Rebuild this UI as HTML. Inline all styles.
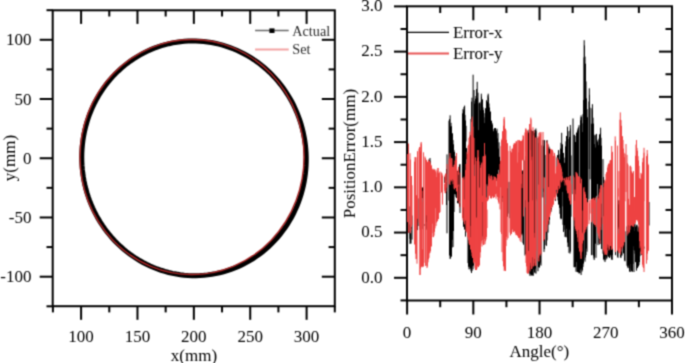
<!DOCTYPE html>
<html><head><meta charset="utf-8"><style>
html,body{margin:0;padding:0;background:#fff;}
svg{display:block;font-family:"Liberation Serif", serif;}
</style></head><body>
<svg width="685" height="363" viewBox="0 0 685 363">
<defs><filter id="bl" x="0" y="0" width="685" height="363" filterUnits="userSpaceOnUse" color-interpolation-filters="sRGB"><feConvolveMatrix order="3" kernelMatrix="1 3 1 3 9 3 1 3 1" divisor="25" edgeMode="duplicate" preserveAlpha="true"/></filter></defs>
<rect width="685" height="363" fill="#fff"/>
<g filter="url(#bl)">
<rect width="685" height="363" fill="#fff"/>
<rect x="52.7" y="10.3" width="282.1" height="295.9" fill="none" stroke="#000" stroke-width="2"/>
<line x1="46.50" y1="306.31" x2="52.70" y2="306.31" stroke="#000" stroke-width="2"/>
<line x1="39.70" y1="276.70" x2="52.70" y2="276.70" stroke="#000" stroke-width="2"/>
<line x1="321.80" y1="276.70" x2="334.80" y2="276.70" stroke="#000" stroke-width="2"/>
<line x1="46.50" y1="247.09" x2="52.70" y2="247.09" stroke="#000" stroke-width="2"/>
<line x1="328.60" y1="247.09" x2="334.80" y2="247.09" stroke="#000" stroke-width="2"/>
<line x1="39.70" y1="217.48" x2="52.70" y2="217.48" stroke="#000" stroke-width="2"/>
<line x1="321.80" y1="217.48" x2="334.80" y2="217.48" stroke="#000" stroke-width="2"/>
<line x1="46.50" y1="187.86" x2="52.70" y2="187.86" stroke="#000" stroke-width="2"/>
<line x1="328.60" y1="187.86" x2="334.80" y2="187.86" stroke="#000" stroke-width="2"/>
<line x1="39.70" y1="158.25" x2="52.70" y2="158.25" stroke="#000" stroke-width="2"/>
<line x1="321.80" y1="158.25" x2="334.80" y2="158.25" stroke="#000" stroke-width="2"/>
<line x1="46.50" y1="128.64" x2="52.70" y2="128.64" stroke="#000" stroke-width="2"/>
<line x1="328.60" y1="128.64" x2="334.80" y2="128.64" stroke="#000" stroke-width="2"/>
<line x1="39.70" y1="99.02" x2="52.70" y2="99.02" stroke="#000" stroke-width="2"/>
<line x1="321.80" y1="99.02" x2="334.80" y2="99.02" stroke="#000" stroke-width="2"/>
<line x1="46.50" y1="69.41" x2="52.70" y2="69.41" stroke="#000" stroke-width="2"/>
<line x1="328.60" y1="69.41" x2="334.80" y2="69.41" stroke="#000" stroke-width="2"/>
<line x1="39.70" y1="39.80" x2="52.70" y2="39.80" stroke="#000" stroke-width="2"/>
<line x1="321.80" y1="39.80" x2="334.80" y2="39.80" stroke="#000" stroke-width="2"/>
<line x1="46.50" y1="10.19" x2="52.70" y2="10.19" stroke="#000" stroke-width="2"/>
<line x1="52.91" y1="306.20" x2="52.91" y2="312.40" stroke="#000" stroke-width="2"/>
<line x1="81.10" y1="306.20" x2="81.10" y2="319.80" stroke="#000" stroke-width="2"/>
<line x1="81.10" y1="10.30" x2="81.10" y2="23.90" stroke="#000" stroke-width="2"/>
<line x1="109.29" y1="306.20" x2="109.29" y2="312.40" stroke="#000" stroke-width="2"/>
<line x1="109.29" y1="10.30" x2="109.29" y2="16.50" stroke="#000" stroke-width="2"/>
<line x1="137.47" y1="306.20" x2="137.47" y2="319.80" stroke="#000" stroke-width="2"/>
<line x1="137.47" y1="10.30" x2="137.47" y2="23.90" stroke="#000" stroke-width="2"/>
<line x1="165.66" y1="306.20" x2="165.66" y2="312.40" stroke="#000" stroke-width="2"/>
<line x1="165.66" y1="10.30" x2="165.66" y2="16.50" stroke="#000" stroke-width="2"/>
<line x1="193.85" y1="306.20" x2="193.85" y2="319.80" stroke="#000" stroke-width="2"/>
<line x1="193.85" y1="10.30" x2="193.85" y2="23.90" stroke="#000" stroke-width="2"/>
<line x1="222.04" y1="306.20" x2="222.04" y2="312.40" stroke="#000" stroke-width="2"/>
<line x1="222.04" y1="10.30" x2="222.04" y2="16.50" stroke="#000" stroke-width="2"/>
<line x1="250.22" y1="306.20" x2="250.22" y2="319.80" stroke="#000" stroke-width="2"/>
<line x1="250.22" y1="10.30" x2="250.22" y2="23.90" stroke="#000" stroke-width="2"/>
<line x1="278.41" y1="306.20" x2="278.41" y2="312.40" stroke="#000" stroke-width="2"/>
<line x1="278.41" y1="10.30" x2="278.41" y2="16.50" stroke="#000" stroke-width="2"/>
<line x1="306.60" y1="306.20" x2="306.60" y2="319.80" stroke="#000" stroke-width="2"/>
<line x1="306.60" y1="10.30" x2="306.60" y2="23.90" stroke="#000" stroke-width="2"/>
<line x1="334.79" y1="306.20" x2="334.79" y2="312.40" stroke="#000" stroke-width="2"/>
<text x="31.50" y="282.30" font-size="17" text-anchor="end" >-100</text>
<text x="31.50" y="223.08" font-size="17" text-anchor="end" >-50</text>
<text x="31.50" y="163.85" font-size="17" text-anchor="end" >0</text>
<text x="31.50" y="104.62" font-size="17" text-anchor="end" >50</text>
<text x="31.50" y="45.40" font-size="17" text-anchor="end" >100</text>
<text x="81.10" y="342.20" font-size="17" text-anchor="middle" >100</text>
<text x="137.47" y="342.20" font-size="17" text-anchor="middle" >150</text>
<text x="193.85" y="342.20" font-size="17" text-anchor="middle" >200</text>
<text x="250.22" y="342.20" font-size="17" text-anchor="middle" >250</text>
<text x="306.60" y="342.20" font-size="17" text-anchor="middle" >300</text>
<text x="194.00" y="361.00" font-size="17" text-anchor="middle" >x(mm)</text>
<text transform="translate(15.2,158.0) rotate(-90)" font-size="17" text-anchor="middle">y(mm)</text>
<path d="M306.22 157.10 L306.07 152.93 L305.78 148.77 L305.35 144.63 L304.78 140.51 L304.07 136.42 L303.22 132.35 L302.24 128.33 L301.12 124.34 L299.87 120.40 L298.49 116.51 L296.99 112.68 L295.35 108.91 L293.60 105.20 L291.72 101.56 L289.72 98.00 L287.61 94.51 L285.39 91.11 L283.05 87.79 L280.62 84.56 L278.07 81.42 L275.43 78.38 L272.69 75.44 L269.86 72.60 L266.94 69.87 L263.94 67.25 L260.85 64.74 L257.68 62.34 L254.44 60.06 L251.14 57.90 L247.76 55.86 L244.32 53.95 L240.83 52.16 L237.28 50.50 L233.68 48.96 L230.04 47.56 L226.35 46.29 L222.63 45.16 L218.88 44.16 L215.10 43.29 L211.29 42.57 L207.46 41.97 L203.62 41.52 L199.77 41.21 L195.91 41.03 L192.05 40.99 L188.19 41.10 L184.34 41.34 L180.50 41.72 L176.68 42.24 L172.87 42.89 L169.09 43.68 L165.34 44.61 L161.62 45.68 L157.94 46.87 L154.31 48.20 L150.71 49.66 L147.17 51.25 L143.69 52.97 L140.26 54.81 L136.90 56.78 L133.60 58.87 L130.37 61.07 L127.22 63.40 L124.15 65.83 L121.16 68.38 L118.26 71.04 L115.45 73.79 L112.73 76.65 L110.10 79.61 L107.58 82.66 L105.16 85.81 L102.84 89.04 L100.64 92.35 L98.54 95.74 L96.56 99.20 L94.70 102.74 L92.95 106.34 L91.33 110.00 L89.82 113.72 L88.44 117.50 L87.19 121.32 L86.07 125.18 L85.07 129.09 L84.20 133.03 L83.46 136.99 L82.86 140.98 L82.39 145.00 L82.05 149.02 L81.84 153.06 L81.77 157.10 L81.82 161.14 L82.02 165.18 L82.34 169.21 L82.80 173.22 L83.38 177.22 L84.10 181.19 L84.95 185.14 L85.93 189.05 L87.03 192.93 L88.26 196.76 L89.62 200.55 L91.10 204.29 L92.70 207.98 L94.42 211.60 L96.25 215.17 L98.20 218.66 L100.27 222.09 L102.45 225.44 L104.73 228.71 L107.12 231.90 L109.62 235.00 L112.21 238.02 L114.91 240.94 L117.70 243.76 L120.58 246.48 L123.55 249.10 L126.60 251.62 L129.74 254.02 L132.96 256.31 L136.25 258.49 L139.61 260.54 L143.05 262.48 L146.54 264.29 L150.10 265.98 L153.72 267.54 L157.38 268.97 L161.10 270.26 L164.86 271.42 L168.66 272.45 L172.50 273.34 L176.36 274.08 L180.26 274.69 L184.17 275.15 L188.11 275.47 L192.05 275.65 L196.00 275.67 L199.96 275.56 L203.91 275.30 L207.86 274.89 L211.79 274.33 L215.70 273.63 L219.60 272.79 L223.46 271.80 L227.29 270.66 L231.09 269.38 L234.84 267.96 L238.54 266.40 L242.19 264.70 L245.78 262.86 L249.30 260.89 L252.76 258.78 L256.15 256.55 L259.46 254.19 L262.68 251.70 L265.82 249.09 L268.87 246.37 L271.82 243.53 L274.67 240.58 L277.42 237.53 L280.07 234.37 L282.60 231.12 L285.02 227.77 L287.32 224.33 L289.49 220.81 L291.55 217.21 L293.48 213.53 L295.28 209.78 L296.95 205.97 L298.49 202.10 L299.89 198.17 L301.15 194.20 L302.28 190.18 L303.27 186.12 L304.12 182.03 L304.82 177.91 L305.39 173.77 L305.81 169.61 L306.09 165.45 L306.22 161.27 Z" fill="none" stroke="#000" stroke-width="5.0"/>
<ellipse cx="192.05" cy="157.1" rx="112.05" ry="117.5" fill="none" stroke="#a82424" stroke-width="1.5"/>
<line x1="255.10" y1="30.60" x2="288.70" y2="30.60" stroke="#6a6a6a" stroke-width="1.5"/>
<rect x="269.4" y="28.4" width="5.1" height="4.6" fill="#000"/>
<text x="292.30" y="35.80" font-size="14.2" text-anchor="start" fill="#2a2a2a">Actual</text>
<line x1="255.10" y1="49.60" x2="288.70" y2="49.60" stroke="#f3a3a3" stroke-width="2.0"/>
<text x="292.30" y="53.60" font-size="14.2" text-anchor="start" fill="#2a2a2a">Set</text>
<rect x="407.0" y="6.3" width="265.0" height="294.2" fill="none" stroke="#000" stroke-width="2"/>
<line x1="400.50" y1="300.42" x2="407.00" y2="300.42" stroke="#000" stroke-width="2"/>
<line x1="394.00" y1="277.80" x2="407.00" y2="277.80" stroke="#000" stroke-width="2"/>
<line x1="659.00" y1="277.80" x2="672.00" y2="277.80" stroke="#000" stroke-width="2"/>
<line x1="400.50" y1="255.18" x2="407.00" y2="255.18" stroke="#000" stroke-width="2"/>
<line x1="665.50" y1="255.18" x2="672.00" y2="255.18" stroke="#000" stroke-width="2"/>
<line x1="394.00" y1="232.56" x2="407.00" y2="232.56" stroke="#000" stroke-width="2"/>
<line x1="659.00" y1="232.56" x2="672.00" y2="232.56" stroke="#000" stroke-width="2"/>
<line x1="400.50" y1="209.95" x2="407.00" y2="209.95" stroke="#000" stroke-width="2"/>
<line x1="665.50" y1="209.95" x2="672.00" y2="209.95" stroke="#000" stroke-width="2"/>
<line x1="394.00" y1="187.33" x2="407.00" y2="187.33" stroke="#000" stroke-width="2"/>
<line x1="659.00" y1="187.33" x2="672.00" y2="187.33" stroke="#000" stroke-width="2"/>
<line x1="400.50" y1="164.71" x2="407.00" y2="164.71" stroke="#000" stroke-width="2"/>
<line x1="665.50" y1="164.71" x2="672.00" y2="164.71" stroke="#000" stroke-width="2"/>
<line x1="394.00" y1="142.10" x2="407.00" y2="142.10" stroke="#000" stroke-width="2"/>
<line x1="659.00" y1="142.10" x2="672.00" y2="142.10" stroke="#000" stroke-width="2"/>
<line x1="400.50" y1="119.48" x2="407.00" y2="119.48" stroke="#000" stroke-width="2"/>
<line x1="665.50" y1="119.48" x2="672.00" y2="119.48" stroke="#000" stroke-width="2"/>
<line x1="394.00" y1="96.86" x2="407.00" y2="96.86" stroke="#000" stroke-width="2"/>
<line x1="659.00" y1="96.86" x2="672.00" y2="96.86" stroke="#000" stroke-width="2"/>
<line x1="400.50" y1="74.24" x2="407.00" y2="74.24" stroke="#000" stroke-width="2"/>
<line x1="665.50" y1="74.24" x2="672.00" y2="74.24" stroke="#000" stroke-width="2"/>
<line x1="394.00" y1="51.62" x2="407.00" y2="51.62" stroke="#000" stroke-width="2"/>
<line x1="659.00" y1="51.62" x2="672.00" y2="51.62" stroke="#000" stroke-width="2"/>
<line x1="400.50" y1="29.01" x2="407.00" y2="29.01" stroke="#000" stroke-width="2"/>
<line x1="665.50" y1="29.01" x2="672.00" y2="29.01" stroke="#000" stroke-width="2"/>
<line x1="394.00" y1="6.39" x2="407.00" y2="6.39" stroke="#000" stroke-width="2"/>
<line x1="407.10" y1="300.50" x2="407.10" y2="314.50" stroke="#000" stroke-width="2"/>
<line x1="440.21" y1="300.50" x2="440.21" y2="307.20" stroke="#000" stroke-width="2"/>
<line x1="440.21" y1="6.30" x2="440.21" y2="13.00" stroke="#000" stroke-width="2"/>
<line x1="473.32" y1="300.50" x2="473.32" y2="314.50" stroke="#000" stroke-width="2"/>
<line x1="473.32" y1="6.30" x2="473.32" y2="20.30" stroke="#000" stroke-width="2"/>
<line x1="506.43" y1="300.50" x2="506.43" y2="307.20" stroke="#000" stroke-width="2"/>
<line x1="506.43" y1="6.30" x2="506.43" y2="13.00" stroke="#000" stroke-width="2"/>
<line x1="539.54" y1="300.50" x2="539.54" y2="314.50" stroke="#000" stroke-width="2"/>
<line x1="539.54" y1="6.30" x2="539.54" y2="20.30" stroke="#000" stroke-width="2"/>
<line x1="572.65" y1="300.50" x2="572.65" y2="307.20" stroke="#000" stroke-width="2"/>
<line x1="572.65" y1="6.30" x2="572.65" y2="13.00" stroke="#000" stroke-width="2"/>
<line x1="605.77" y1="300.50" x2="605.77" y2="314.50" stroke="#000" stroke-width="2"/>
<line x1="605.77" y1="6.30" x2="605.77" y2="20.30" stroke="#000" stroke-width="2"/>
<line x1="638.88" y1="300.50" x2="638.88" y2="307.20" stroke="#000" stroke-width="2"/>
<line x1="638.88" y1="6.30" x2="638.88" y2="13.00" stroke="#000" stroke-width="2"/>
<line x1="671.99" y1="300.50" x2="671.99" y2="314.50" stroke="#000" stroke-width="2"/>
<text x="382.60" y="282.60" font-size="17" text-anchor="end" >0.0</text>
<text x="382.60" y="237.37" font-size="17" text-anchor="end" >0.5</text>
<text x="382.60" y="192.13" font-size="17" text-anchor="end" >1.0</text>
<text x="382.60" y="146.90" font-size="17" text-anchor="end" >1.5</text>
<text x="382.60" y="101.66" font-size="17" text-anchor="end" >2.0</text>
<text x="382.60" y="56.42" font-size="17" text-anchor="end" >2.5</text>
<text x="382.60" y="11.19" font-size="17" text-anchor="end" >3.0</text>
<text x="407.10" y="337.90" font-size="17" text-anchor="middle" >0</text>
<text x="473.32" y="337.90" font-size="17" text-anchor="middle" >90</text>
<text x="539.54" y="337.90" font-size="17" text-anchor="middle" >180</text>
<text x="605.77" y="337.90" font-size="17" text-anchor="middle" >270</text>
<text x="671.99" y="337.90" font-size="17" text-anchor="middle" >360</text>
<text x="539.30" y="356.50" font-size="17" text-anchor="middle" >Angle(°)</text>
<text transform="translate(355.0,153.6) rotate(-90)" font-size="17" text-anchor="middle">PositionError(mm)</text>
<path d="M407.50 200.4V237.4M410.00 206.4V238.8M410.50 208.7V243.0M411.00 209.4V243.6M411.50 210.6V228.8M412.00 215.5V239.6M414.50 222.1V230.5M415.00 217.4V234.4M415.50 216.0V233.5M416.00 214.1V227.7M416.50 211.7V231.3M417.00 206.4V228.1M417.50 208.6V230.1M419.00 198.4V226.0M419.50 195.4V224.5M420.00 208.4V229.6M420.50 207.7V229.4M421.00 218.4V226.8M421.50 189.6V229.6M422.00 187.6V229.1M422.50 187.5V198.1M423.00 188.4V195.0M423.50 186.3V200.4M425.00 224.1V225.9M425.50 216.4V229.4M426.00 182.1V228.6M426.50 194.0V221.9M427.00 171.2V209.6M427.50 178.0V202.9M428.00 165.5V191.9M428.50 161.5V187.3M429.00 159.6V192.7M429.50 164.0V198.6M430.00 160.8V190.7M430.50 182.5V201.1M431.00 167.8V199.6M431.50 171.5V203.5M432.00 182.8V203.2M432.50 177.3V201.0M433.00 176.4V200.9M433.50 180.0V202.8M434.00 183.4V201.5M434.50 191.5V201.8M435.00 190.2V200.1M435.50 177.5V199.9M436.00 181.0V196.7M436.50 178.7V199.1M437.00 181.3V195.7M437.50 179.6V197.0M438.00 180.0V195.1M438.50 185.0V196.1M439.00 180.4V191.5M439.50 188.8V190.9M440.00 192.6V193.1M441.50 185.9V186.4M442.00 180.0V189.5M442.50 178.1V178.8M444.50 176.7V182.9M445.00 177.9V181.7M445.50 177.1V177.8M446.00 177.0V179.2M446.50 169.0V205.0M447.00 154.4V233.3M449.00 120.7V200.7M449.50 119.1V255.5M450.00 127.7V253.8M450.50 126.6V258.3M451.00 122.8V256.7M451.50 126.2V256.5M452.00 172.4V247.7M452.50 133.3V239.8M453.00 140.1V247.0M453.50 144.3V231.0M454.00 150.1V212.0M454.50 152.0V194.2M455.00 156.0V179.5M455.50 170.1V194.4M456.00 167.5V196.9M456.50 166.8V198.0M457.00 173.1V198.0M457.50 170.9V203.2M458.00 177.3V202.9M458.50 170.6V203.4M459.00 168.9V199.7M459.50 164.6V206.6M460.00 164.1V213.0M462.50 113.4V189.2M463.00 109.1V190.4M463.50 110.4V226.8M464.00 107.0V168.3M464.50 107.1V229.5M465.00 114.9V229.2M465.50 120.5V236.6M466.00 125.8V141.5M466.50 148.1V159.3M467.00 157.6V168.7M467.50 158.5V202.3M468.00 171.5V263.1M468.50 160.8V266.8M469.00 161.6V269.3M469.50 155.6V266.8M470.00 151.0V269.2M470.50 135.1V268.2M471.00 119.0V271.2M471.50 101.6V223.1M472.00 97.7V271.0M472.50 127.6V266.4M473.00 139.4V269.3M473.50 218.9V265.6M474.00 90.0V255.4M474.50 103.6V164.6M475.00 101.0V248.2M475.50 98.7V246.5M476.00 96.0V242.0M476.50 89.1V232.1M477.00 160.4V240.8M477.50 97.9V239.9M478.00 92.7V193.2M478.50 130.1V239.7M479.00 103.4V235.3M479.50 102.6V239.2M480.00 103.5V184.8M480.50 110.2V236.2M481.00 101.7V234.7M481.50 96.6V239.7M482.00 101.4V236.8M482.50 99.3V235.9M483.00 107.4V157.7M483.50 110.1V229.3M484.00 113.2V229.6M484.50 123.0V227.1M485.00 117.4V223.4M485.50 108.2V217.1M486.00 110.1V208.2M486.50 100.3V184.3M487.00 149.4V198.3M487.50 102.2V197.0M488.00 95.4V188.9M488.50 97.6V191.2M489.00 103.5V188.9M489.50 107.5V188.8M490.00 113.6V148.9M490.50 111.5V186.1M491.00 121.1V187.1M491.50 120.7V188.3M492.00 123.0V186.9M492.50 124.5V186.6M493.00 138.0V184.2M493.50 131.2V180.6M494.00 129.0V185.2M494.50 128.1V183.8M495.00 130.7V183.4M495.50 128.0V183.2M496.00 130.4V180.0M496.50 131.1V180.8M497.00 128.7V173.9M497.50 138.4V179.8M498.00 133.1V164.2M498.50 148.6V169.8M499.00 142.3V180.9M499.50 156.8V175.8M500.00 161.0V172.2M500.50 163.5V180.9M501.00 170.6V176.5M501.50 168.4V193.3M502.00 168.0V183.5M502.50 170.9V197.7M503.00 172.8V202.0M503.50 174.7V203.5M504.00 178.8V208.5M504.50 178.9V211.3M505.00 182.8V214.4M505.50 180.3V214.1M506.00 187.0V214.5M506.50 192.0V215.1M507.00 184.1V215.6M507.50 187.4V216.7M508.00 181.8V213.6M510.00 181.8V218.2M510.50 184.9V217.8M511.00 183.2V210.1M511.50 187.7V216.5M512.00 185.2V217.4M512.50 189.4V208.6M513.00 183.4V218.6M513.50 185.1V212.2M514.00 185.4V218.6M514.50 183.3V220.2M515.00 183.8V215.3M515.50 184.7V215.4M516.00 185.4V222.0M516.50 206.0V219.9M517.00 185.4V220.5M517.50 186.9V221.7M518.00 201.0V222.7M518.50 185.0V221.9M519.00 191.9V221.1M519.50 189.8V223.8M520.00 189.5V217.6M520.50 185.3V216.1M521.00 180.2V226.1M521.50 178.4V234.1M522.00 176.4V235.3M522.50 170.5V233.6M523.00 171.3V243.2M523.50 169.2V244.7M525.00 160.3V255.5M525.50 156.2V254.1M526.00 176.6V253.2M526.50 152.3V206.6M527.00 147.1V262.7M527.50 143.2V258.3M528.00 131.7V265.3M528.50 133.1V268.3M529.00 129.6V269.9M529.50 130.8V191.0M530.00 129.5V274.4M530.50 129.9V273.7M531.00 129.6V274.5M531.50 130.6V275.5M532.00 132.4V272.1M532.50 131.0V275.0M533.00 130.9V275.3M533.50 131.4V269.5M534.00 198.3V210.0M534.50 132.7V272.3M535.00 129.8V273.2M535.50 130.0V268.8M536.00 131.1V273.6M538.00 138.0V271.2M538.50 142.9V267.3M539.00 137.1V260.3M539.50 141.8V267.6M540.00 141.4V264.7M540.50 149.5V262.6M541.00 145.3V265.6M543.50 146.3V191.9M544.00 145.4V251.9M544.50 140.1V249.2M545.00 154.9V245.2M546.50 141.1V245.8M547.00 146.0V240.4M547.50 175.5V186.8M548.00 144.7V232.6M548.50 148.0V224.4M549.00 146.7V224.5M549.50 148.8V219.7M550.00 166.3V212.5M550.50 156.1V212.6M551.00 154.9V211.8M551.50 153.3V209.5M552.00 155.0V207.0M552.50 164.9V202.3M553.00 156.4V168.5M553.50 163.5V165.4M554.00 159.7V173.7M554.50 159.4V177.0M555.00 175.9V196.1M555.50 184.6V200.9M556.00 177.2V193.2M556.50 175.3V186.1M557.00 157.4V194.6M557.50 155.1V196.9M558.00 157.3V200.6M558.50 150.9V204.6M559.00 154.4V200.9M559.50 159.6V207.8M560.00 159.1V213.9M560.50 148.6V218.2M561.00 142.8V219.3M561.50 148.7V218.7M562.00 144.2V206.4M562.50 144.5V191.9M563.00 187.5V224.8M563.50 152.9V231.9M564.00 157.6V229.8M564.50 162.9V225.2M565.00 162.7V236.9M565.50 146.4V236.4M566.00 141.3V237.3M566.50 136.0V228.8M567.00 175.5V237.3M567.50 128.4V242.5M568.00 131.2V246.9M568.50 176.2V246.7M569.00 139.0V252.9M569.50 137.0V229.8M570.00 130.8V253.6M570.50 128.5V251.6M571.00 155.4V216.7M573.50 187.2V200.7M574.00 135.1V267.2M574.50 134.7V267.2M575.00 142.7V265.9M575.50 142.0V266.9M576.00 136.0V271.7M576.50 132.9V262.1M577.00 132.2V271.9M577.50 130.4V272.2M578.00 128.4V270.4M578.50 127.3V272.4M579.00 125.2V273.5M579.50 227.2V273.1M580.00 245.3V273.1M580.50 120.2V269.7M581.00 117.3V263.6M581.50 117.1V268.4M582.00 123.3V271.6M582.50 132.0V270.1M583.00 114.2V266.9M583.50 100.0V263.6M584.00 57.4V260.0M584.50 45.4V200.0M585.00 56.6V261.7M585.50 63.7V257.5M586.00 81.4V255.1M586.50 98.4V248.7M587.00 109.2V251.7M587.50 117.3V224.7M589.00 101.5V199.5M589.50 94.8V141.5M590.00 107.7V179.3M591.50 123.7V255.2M592.00 108.3V255.0M592.50 110.5V207.6M593.00 117.7V195.5M593.50 123.6V255.6M594.00 135.5V258.4M594.50 144.1V257.2M595.00 134.6V210.3M595.50 147.5V243.7M596.00 135.3V257.8M597.50 141.6V184.1M598.00 139.9V245.1M598.50 145.1V199.5M599.00 138.5V243.2M599.50 134.3V244.4M600.00 138.5V240.5M600.50 132.8V180.0M601.00 137.8V243.9M601.50 145.7V249.0M603.00 159.1V253.7M603.50 177.0V259.2M604.00 180.2V260.3M604.50 190.7V258.6M605.00 202.0V260.2M605.50 201.1V256.1M606.00 203.9V259.5M606.50 201.5V257.7M607.00 202.7V258.5M607.50 201.2V250.1M608.00 203.2V256.4M608.50 200.8V256.7M609.00 201.5V251.5M609.50 221.6V258.0M610.00 201.0V244.6M610.50 202.3V255.3M611.00 201.7V257.2M611.50 208.6V259.0M612.00 210.3V259.6M612.50 201.2V255.1M615.50 228.9V255.2M617.50 201.6V256.8M618.00 200.8V257.9M618.50 204.4V227.2M619.00 209.6V216.4M619.50 208.3V225.8M620.00 210.1V223.5M620.50 213.2V257.5M621.00 211.3V257.8M621.50 227.6V255.2M622.00 218.1V255.6M622.50 217.9V243.6M623.00 240.2V242.9M623.50 220.0V253.4M624.00 221.3V246.2M624.50 222.6V260.6M625.00 231.3V261.3M627.00 226.4V265.7M627.50 227.8V266.7M628.00 223.6V268.2M628.50 224.3V265.5M629.00 233.7V267.9M629.50 224.4V271.1M630.00 225.0V271.6M630.50 225.9V264.1M631.00 225.0V268.5M631.50 224.7V270.9M632.00 228.3V271.7M632.50 223.1V271.6M633.00 240.4V263.9M633.50 223.8V246.4M634.00 223.3V250.1M634.50 230.9V250.5M635.00 223.6V253.7M635.50 226.6V262.2M636.00 227.1V254.4M636.50 225.3V270.6M637.00 224.7V264.7M637.50 231.3V268.1M638.00 226.3V266.9M638.50 228.3V266.0M639.00 227.1V264.9M639.50 228.2V262.1M640.00 228.7V256.1M640.50 240.7V251.4M641.00 231.8V251.8M641.50 242.3V254.9M642.00 243.9V244.4M642.50 235.9V247.2M643.00 241.1V251.8M643.50 238.6V249.1M644.00 246.6V248.7M646.50 215.9V239.9M647.00 206.5V246.3M647.50 204.6V242.9M648.00 215.8V226.8M648.50 204.6V244.0M407.50 200.0V221.5M410.00 224.5V244.0M426.00 205.0V230.0M430.00 158.0V179.0M432.00 190.0V205.0M450.10 115.3V187.1M450.10 187.2V259.0M464.60 105.6V168.8M471.50 186.5V273.0M473.10 74.7V172.4M477.20 81.8V160.9M479.00 171.5V240.0M481.30 93.7V166.9M481.30 166.8V240.0M483.00 170.0V240.0M488.20 93.7V144.3M530.00 128.5V202.2M530.00 202.2V276.0M533.00 203.0V276.0M535.90 128.5V201.2M543.00 140.0V197.5M547.00 140.0V192.5M558.60 150.0V178.5M561.70 132.8V179.4M567.50 126.7V187.3M570.30 125.0V191.0M573.00 118.5V194.2M581.10 115.4V195.2M581.10 195.2V275.0M584.20 40.2V152.6M589.30 88.3V169.1M592.40 104.2V181.1M594.20 197.5V260.0M596.50 133.9V195.9M600.60 127.7V186.3M605.00 231.0V262.0M608.00 200.0V229.0M612.00 200.0V230.0M612.00 230.0V260.0M618.00 200.0V229.0M630.00 247.2V272.0M634.00 222.0V247.0M634.00 247.0V272.0M647.00 227.5V250.0M649.00 202.0V225.5" fill="none" stroke="#000" stroke-width="1.0"/>
<path d="M407.50 154.1V222.1M410.00 153.2V231.6M410.50 159.5V233.3M411.00 185.2V230.3M411.50 176.0V226.9M412.00 185.2V224.9M414.50 161.6V244.5M415.00 157.1V241.2M415.50 157.2V253.7M416.00 206.1V259.1M416.50 195.2V258.9M417.00 157.3V263.7M417.50 151.2V218.8M419.00 148.6V222.6M419.50 147.1V226.5M420.00 147.2V274.9M420.50 151.3V268.7M421.00 143.4V236.4M421.50 144.3V266.7M422.00 201.7V267.3M422.50 249.4V266.4M423.00 190.9V266.9M423.50 152.3V266.2M425.00 156.6V262.8M425.50 158.1V265.8M426.00 195.9V265.8M426.50 159.9V215.4M427.00 203.2V203.7M427.50 161.8V266.5M428.00 177.1V262.3M428.50 159.7V259.3M429.00 161.9V257.8M429.50 161.0V253.3M430.00 161.6V252.8M430.50 163.6V251.2M431.00 164.9V240.7M431.50 165.7V246.5M432.00 169.7V237.1M432.50 169.3V223.7M433.00 168.6V233.2M433.50 169.7V237.2M434.00 171.2V235.6M434.50 169.3V231.8M435.00 170.9V228.4M435.50 171.6V208.2M436.00 169.6V225.9M436.50 177.0V222.6M437.00 172.6V221.3M437.50 171.2V221.2M438.00 168.0V219.1M438.50 173.2V219.1M439.00 192.3V210.9M439.50 172.6V212.9M440.00 171.5V212.0M441.50 172.5V192.5M442.00 173.5V177.8M442.50 175.5V204.6M444.50 184.0V190.8M445.00 175.2V193.2M445.50 173.6V193.1M446.00 173.8V191.7M446.50 180.8V181.5M447.00 164.1V187.8M449.00 158.6V184.2M449.50 158.6V183.7M450.00 156.5V176.1M450.50 162.5V179.8M451.00 158.8V181.6M451.50 158.1V180.1M452.00 158.4V180.9M452.50 166.8V179.0M453.00 168.0V184.2M453.50 167.0V180.2M454.00 165.0V188.5M454.50 164.5V189.4M455.00 160.5V186.3M455.50 159.9V188.1M456.00 156.8V177.5M456.50 154.1V191.5M457.00 169.6V185.5M457.50 184.9V200.9M458.00 172.0V186.6M458.50 166.8V174.7M459.00 184.5V203.3M459.50 201.6V203.1M460.00 172.5V207.5M462.50 177.7V218.1M463.00 177.9V220.3M463.50 179.6V207.4M464.00 176.6V222.1M464.50 199.3V224.4M465.00 178.7V208.2M465.50 170.1V220.6M466.00 164.0V231.3M466.50 163.5V231.5M467.00 151.8V232.8M467.50 153.9V237.3M468.00 145.6V232.3M468.50 144.6V240.2M469.00 137.9V243.4M469.50 136.6V244.9M470.00 131.8V245.1M470.50 237.2V249.3M471.00 225.9V249.9M471.50 121.9V252.5M472.00 119.2V256.1M472.50 159.0V258.0M473.00 126.7V255.6M473.50 137.3V262.4M474.00 138.1V263.5M474.50 176.0V262.1M475.00 186.2V267.8M475.50 157.4V270.0M476.00 161.0V268.6M476.50 237.4V268.2M477.00 242.8V268.5M477.50 158.1V266.3M478.00 150.1V228.6M478.50 156.8V267.0M479.00 161.4V258.2M479.50 187.6V265.5M480.00 200.7V257.7M480.50 167.7V252.3M481.00 165.0V243.7M481.50 163.4V241.2M482.00 162.4V246.5M482.50 195.7V202.0M483.00 156.5V243.5M483.50 156.1V245.0M484.00 156.8V244.6M484.50 148.2V238.9M485.00 154.4V244.2M485.50 155.9V241.3M486.00 206.7V239.5M486.50 197.4V236.9M487.00 209.6V228.1M487.50 186.2V201.2M488.00 184.4V200.1M488.50 176.4V199.3M489.00 174.1V196.1M489.50 178.1V195.6M490.00 175.8V192.2M490.50 179.0V198.3M491.00 176.3V195.0M491.50 175.4V198.5M492.00 176.7V197.4M492.50 180.2V196.1M493.00 182.2V195.5M493.50 179.6V198.1M494.00 176.0V196.0M494.50 177.0V197.1M495.00 178.6V194.4M495.50 176.9V194.2M496.00 178.3V198.6M496.50 186.4V193.7M497.00 178.4V196.1M497.50 174.0V197.0M498.00 175.9V200.2M498.50 174.9V202.3M499.00 172.4V203.8M499.50 174.4V197.8M500.00 164.0V209.4M500.50 160.8V187.3M501.00 146.1V232.2M501.50 140.2V234.0M502.00 138.6V252.2M502.50 131.2V196.2M503.00 134.5V261.2M503.50 125.7V266.4M504.00 118.8V181.6M504.50 120.5V269.7M505.00 130.0V267.0M505.50 128.7V262.1M506.00 130.4V246.1M506.50 139.9V236.8M507.00 143.1V239.9M507.50 143.3V188.3M508.00 150.8V238.2M510.00 145.8V232.6M510.50 151.0V235.4M511.00 153.4V233.8M511.50 152.3V233.8M512.00 148.8V211.2M512.50 149.0V229.6M513.00 147.7V232.0M513.50 144.9V232.2M514.00 143.5V230.8M514.50 143.4V231.0M515.00 143.1V232.4M515.50 143.6V233.3M516.00 141.3V235.2M516.50 141.4V235.0M517.00 162.1V232.8M517.50 163.1V235.8M518.00 140.5V236.5M518.50 152.3V237.9M519.00 140.5V236.2M519.50 140.2V238.0M520.00 147.1V240.5M520.50 140.9V237.2M521.00 143.8V242.0M521.50 140.7V183.8M522.00 174.0V188.1M522.50 139.6V159.9M523.00 135.2V160.7M523.50 136.0V216.5M525.00 132.5V207.4M525.50 129.7V151.6M526.00 128.7V262.9M526.50 132.5V266.4M527.00 130.2V272.8M527.50 130.7V273.3M528.00 259.2V269.5M528.50 250.8V273.0M529.00 253.9V270.2M529.50 124.0V269.6M530.00 155.1V271.4M530.50 150.1V262.8M531.00 119.4V265.7M531.50 160.2V269.1M532.00 156.7V268.6M532.50 200.4V257.4M533.00 127.3V266.6M533.50 135.5V266.3M534.00 130.7V263.2M534.50 237.6V258.9M535.00 233.0V265.8M535.50 137.5V265.4M536.00 137.7V251.1M538.00 136.3V261.3M538.50 184.6V257.8M539.00 132.9V261.5M539.50 136.5V254.9M540.00 138.1V255.8M540.50 133.7V253.6M541.00 132.2V254.3M543.50 220.3V241.2M544.00 177.2V239.6M544.50 177.7V239.3M545.00 204.7V233.4M546.50 142.4V231.8M547.00 140.6V229.8M547.50 145.2V224.8M548.00 143.8V224.1M548.50 187.0V220.6M549.00 201.9V217.2M549.50 153.5V217.1M550.00 155.9V215.7M550.50 148.7V213.6M551.00 153.2V211.1M551.50 149.4V208.0M552.00 150.7V207.5M552.50 149.8V206.0M553.00 151.6V204.2M553.50 156.0V204.7M554.00 158.6V177.8M554.50 153.1V197.4M555.00 155.5V200.3M555.50 173.5V199.1M556.00 191.6V196.3M556.50 166.4V189.9M557.00 169.1V186.4M557.50 157.6V193.4M558.00 159.5V190.3M558.50 160.1V185.9M559.00 166.5V178.7M559.50 162.8V188.8M560.00 163.3V187.4M560.50 165.0V180.0M561.00 166.7V181.3M561.50 168.7V182.3M562.00 171.8V181.2M562.50 176.4V180.3M563.00 179.2V179.9M563.50 180.9V181.4M564.00 178.2V180.2M564.50 178.8V180.4M565.00 177.7V185.5M565.50 180.2V182.5M566.00 181.0V184.5M566.50 177.4V185.4M567.00 177.1V190.7M567.50 179.6V193.3M568.00 180.9V192.6M568.50 177.0V193.3M569.00 176.4V198.2M569.50 180.6V200.3M570.00 180.3V201.2M570.50 175.8V204.5M571.00 183.9V204.1M573.50 175.6V216.8M574.00 177.3V220.4M574.50 200.6V217.4M575.00 189.5V226.4M575.50 194.2V229.0M576.00 198.6V230.6M576.50 172.6V231.1M577.00 173.1V234.2M577.50 174.3V237.5M578.00 208.4V241.8M578.50 176.3V229.9M579.00 176.6V248.2M579.50 177.3V251.0M580.00 177.1V252.2M580.50 183.3V255.4M581.00 214.9V258.6M581.50 178.8V252.5M582.00 232.2V251.6M582.50 233.3V243.5M583.00 210.5V236.7M583.50 188.3V240.5M584.00 187.0V225.0M584.50 191.7V233.3M585.00 191.9V232.0M585.50 194.3V229.9M586.00 198.5V229.3M586.50 198.0V227.2M587.00 211.6V225.8M587.50 202.2V225.7M589.00 200.2V224.1M589.50 203.1V220.3M590.00 199.8V213.5M591.50 199.0V222.3M592.00 199.7V213.8M592.50 198.5V208.3M593.00 211.6V221.2M593.50 197.8V223.7M594.00 197.9V221.7M594.50 199.9V225.0M595.00 213.2V223.5M595.50 197.6V225.3M596.00 202.2V227.0M597.50 196.8V232.6M598.00 198.0V233.8M598.50 199.2V236.3M599.00 194.6V238.1M599.50 192.5V239.0M600.00 188.7V243.5M600.50 189.4V227.1M601.00 185.3V230.0M601.50 185.1V203.7M603.00 187.1V224.1M603.50 216.2V250.4M604.00 183.2V252.6M604.50 182.9V251.0M605.00 179.6V254.4M605.50 181.2V253.7M606.00 174.0V251.1M606.50 172.2V252.4M607.00 172.8V253.3M607.50 167.6V244.4M608.00 165.3V247.7M608.50 163.6V245.4M609.00 164.9V250.5M609.50 163.4V249.3M610.00 160.7V241.1M610.50 160.0V246.1M611.00 171.3V241.9M611.50 160.5V239.7M612.00 153.2V249.3M612.50 151.8V248.6M615.50 140.7V251.8M617.50 145.6V250.7M618.00 188.2V196.5M618.50 233.8V252.4M619.00 171.1V252.9M619.50 200.2V248.5M620.00 119.7V253.2M620.50 119.8V251.8M621.00 120.1V251.5M621.50 125.8V246.9M622.00 144.0V245.4M622.50 136.2V248.5M623.00 140.0V246.5M623.50 148.6V245.3M624.00 152.8V241.6M624.50 157.2V242.2M625.00 153.8V201.3M627.00 154.8V235.7M627.50 163.3V230.9M628.00 164.6V234.2M628.50 198.8V225.3M629.00 214.0V233.0M629.50 204.8V232.0M630.00 166.3V229.7M630.50 165.7V225.8M631.00 167.1V216.4M631.50 171.2V224.7M632.00 173.3V226.1M632.50 173.5V226.4M633.00 172.3V224.8M633.50 171.1V226.7M634.00 199.8V225.0M634.50 197.0V223.8M635.00 212.7V223.7M635.50 155.8V222.8M636.00 144.6V216.8M636.50 169.1V220.2M637.00 147.9V216.3M637.50 150.7V220.5M638.00 156.2V221.8M638.50 160.5V224.5M639.00 165.9V231.8M639.50 178.2V241.1M640.00 180.7V248.2M640.50 178.9V246.4M641.00 172.9V254.3M641.50 174.5V254.3M642.00 173.8V237.6M642.50 162.2V264.7M643.00 158.2V266.9M643.50 157.5V268.0M644.00 152.8V201.1M646.50 156.1V263.7M647.00 176.3V260.1M647.50 153.8V253.6M648.00 163.8V251.1M648.50 165.1V250.5M408.50 143.5V188.2M408.50 188.2V233.0M420.00 210.5V275.0M421.20 142.0V206.0M427.00 213.0V268.0M438.00 168.0V194.5M450.00 153.0V169.0M450.00 169.0V185.0M456.50 153.0V175.0M472.30 116.6V187.3M475.50 212.5V270.0M476.50 217.5V270.0M478.00 150.0V209.0M484.50 143.0V194.0M504.20 117.0V194.0M504.20 194.0V271.0M505.50 198.0V271.0M518.00 140.0V189.0M525.70 128.5V200.2M528.00 202.0V274.0M530.80 117.6V194.3M536.00 199.0V266.0M540.00 132.0V196.0M543.00 132.0V188.5M576.00 172.0V202.0M581.00 217.5V259.0M601.00 185.0V217.5M605.00 216.5V255.0M606.50 213.5V255.0M611.70 146.0V198.0M611.70 198.0V250.0M615.20 136.4V194.2M615.20 194.2V252.0M620.30 112.4V183.5M620.30 183.5V254.6M626.00 144.0V192.0M636.50 140.0V181.0M644.00 147.8V209.9M644.00 209.9V272.0M647.20 150.0V206.0" fill="none" stroke="#ee4343" stroke-width="1.0"/>
<line x1="408.00" y1="32.30" x2="449.00" y2="32.30" stroke="#000" stroke-width="1.3"/>
<text x="452.90" y="37.80" font-size="17" text-anchor="start" >Error-x</text>
<line x1="408.00" y1="53.60" x2="449.00" y2="53.60" stroke="#e85555" stroke-width="2.0"/>
<text x="452.90" y="59.20" font-size="17" text-anchor="start" >Error-y</text>
</g>
</svg></body></html>
